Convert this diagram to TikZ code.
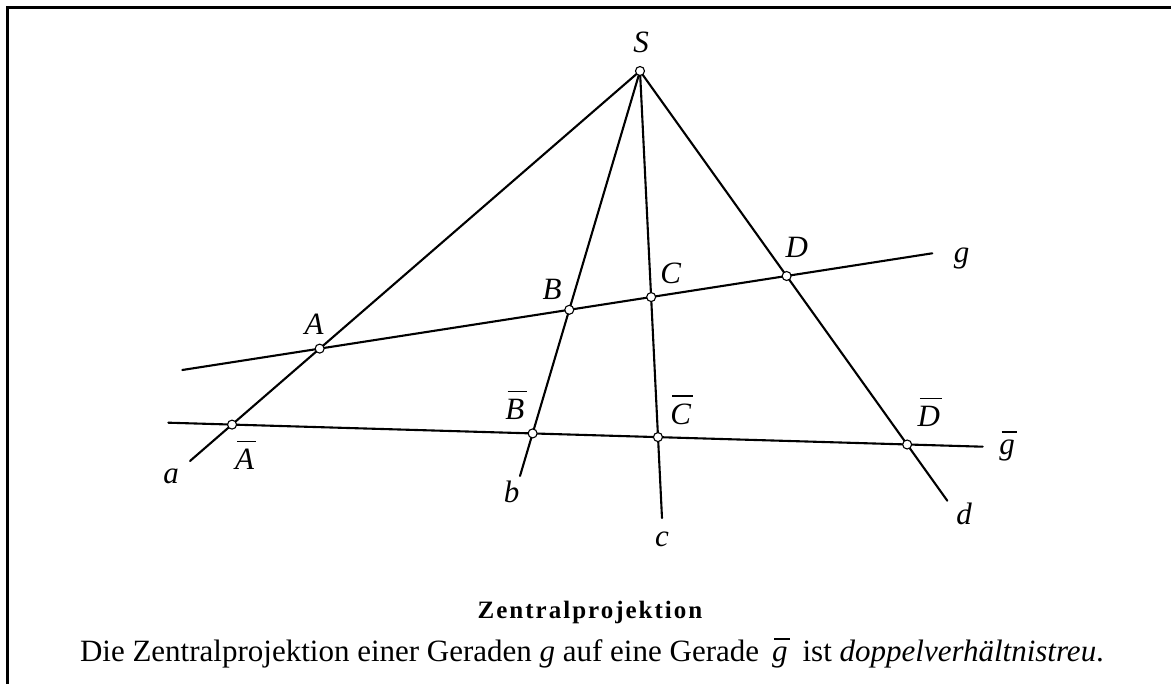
\documentclass[tikz,border=0pt]{standalone}
\usepackage{fontspec}
\setmainfont{Liberation Serif}
\newfontfamily\capfont{Liberation Serif}[LetterSpace=8]
\newsavebox\ovlbox
\newcommand\ovl[1]{\sbox\ovlbox{\itshape #1}%
  \vbox{\offinterlineskip\hbox{\kern0.07em\vrule width\wd\ovlbox height 0.05em depth 0pt}\kern0.24em\box\ovlbox}}
\begin{document}
\begin{tikzpicture}[x=1pt,y=-1pt,
  geo/.style={line width=2.1pt, line cap=round},
  frame/.style={line width=3pt, line join=miter},
  pt/.style={circle, draw, fill=white, line width=1.1pt, inner sep=0pt, minimum size=9pt},
  lbl/.style={font=\fontsize{31}{37}\selectfont\itshape, inner sep=0pt, anchor=base},
  ]
\useasboundingbox (0,0) rectangle (1171,684);
% frame (open at right and bottom)
\draw[frame] (7.5,684) -- (7.5,8) -- (1171,8);

% construction points
\coordinate (S)  at (640,71);
\coordinate (aE) at (190,461);
\coordinate (bE) at (520,476);
\coordinate (cE) at (662,518);
\coordinate (dE) at (947.3,500.7);
\coordinate (gL) at (182.3,370);
\coordinate (gR) at (932.3,253.3);
\coordinate (hL) at (168.3,422.7);
\coordinate (hR) at (982.7,446.7);

\coordinate (A)  at (intersection of S--aE and gL--gR);
\coordinate (B)  at (intersection of S--bE and gL--gR);
\coordinate (C)  at (intersection of S--cE and gL--gR);
\coordinate (D)  at (intersection of S--dE and gL--gR);
\coordinate (A1) at (intersection of S--aE and hL--hR);
\coordinate (B1) at (intersection of S--bE and hL--hR);
\coordinate (C1) at (intersection of S--cE and hL--hR);
\coordinate (D1) at (intersection of S--dE and hL--hR);

% lines
\draw[geo] (S) -- (aE);
\draw[geo] (S) -- (bE);
\draw[geo] (S) -- (cE);
\draw[geo] (S) -- (dE);
\draw[geo] (gL) -- (gR);
\draw[geo] (hL) -- (hR);

% points
\foreach \p in {S,A,B,C,D,A1,B1,C1,D1}
  \node[pt] (n\p) at (\p) {};

% labels
\node[lbl] (lS)  at (641,53)    {S};
\node[lbl] (lA)  at (314,335)   {A};
\node[lbl] (lB)  at (552,300)   {B};
\node[lbl] (lC)  at (670.7,283.3) {C};
\node[lbl] (lD)  at (796.7,257.5) {D};
\node[lbl] (lA1) at (245.7,470) {\ovl{A}};
\node[lbl] (lB1) at (516,420)   {\ovl{B}};
\node[lbl] (lC1) at (681.7,425) {\ovl{C}};
\node[lbl] (lD1) at (930,427)   {\ovl{D}};
\node[lbl] (la)  at (171,484)   {a};
\node[lbl] (lb)  at (511.7,503) {b};
\node[lbl] (lc)  at (662,546.7) {c};
\node[lbl] (ld)  at (964,525)   {d};
\node[lbl] (lg)  at (961.7,263) {g};
\node[lbl] (lh)  at (1008.3,455) {\ovl{g}};

% caption
\node[font={\capfont\bfseries\fontsize{25}{30}\selectfont}, anchor=base, inner sep=0pt] (title) at (590,618) {Zentralprojektion};
\node[font=\fontsize{31}{37}\selectfont, anchor=base, inner sep=0pt] (text) at (592,661.7)
  {Die Zentralprojektion einer Geraden \textit{g} auf eine Gerade \,\ovl{g}\, ist \textit{doppelverhältnistreu}.};
\end{tikzpicture}
\end{document}
